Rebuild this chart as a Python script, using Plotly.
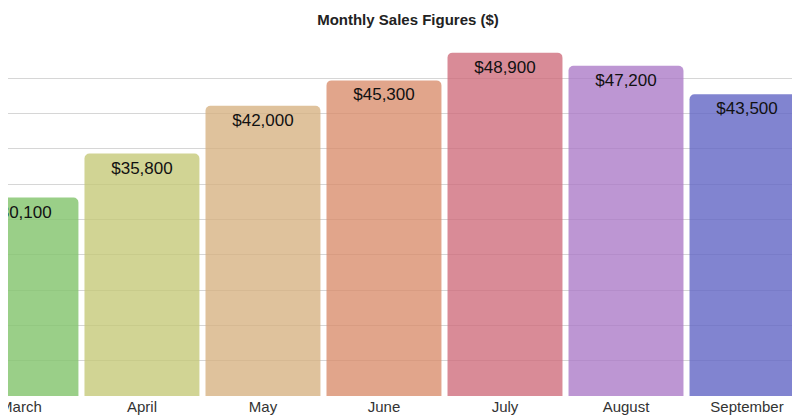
import plotly.graph_objects as go

months = ["March", "April", "May", "June", "July", "August", "September"]
sales = [30100, 35800, 42000, 45300, 48900, 47200, 43500]
bar_colors = [
    "rgba(132,196,110,0.82)", "rgba(196,200,118,0.78)", "rgba(214,177,128,0.78)",
    "rgba(216,140,106,0.78)", "rgba(206,106,122,0.78)", "rgba(170,120,198,0.78)",
    "rgba(98,101,196,0.8)",
]

fig = go.Figure(go.Bar(
    x=months,
    y=sales,
    marker=dict(color=bar_colors, cornerradius=5, line_width=0),
    text=[f"${v:,}" for v in sales],
    textposition="inside",
    insidetextanchor="end",
    textfont=dict(size=17, color="#111"),
    cliponaxis=False,
))

fig.update_layout(
    width=800, height=419,
    margin=dict(l=0, r=0, t=35, b=31, autoexpand=False),
    title=dict(text="<b>Monthly Sales Figures ($)</b>", x=0.5, y=0.972, yanchor="middle",
               font=dict(size=15, color="#222")),
    font=dict(family="Liberation Sans, Arial, sans-serif"),
    plot_bgcolor="white",
    paper_bgcolor="white",
    bargap=0.05,
    showlegend=False,
)
fig.update_xaxes(range=[-0.107, 6.504], showgrid=False, ticks="", automargin=False,
                 tickfont=dict(size=15, color="#333"), showline=False)
fig.update_yaxes(range=[4350, 50150], tick0=4350, dtick=4580, showticklabels=False,
                 automargin=False, gridcolor="#d6d6d6", zeroline=False)

fig.write_html("out.html")
